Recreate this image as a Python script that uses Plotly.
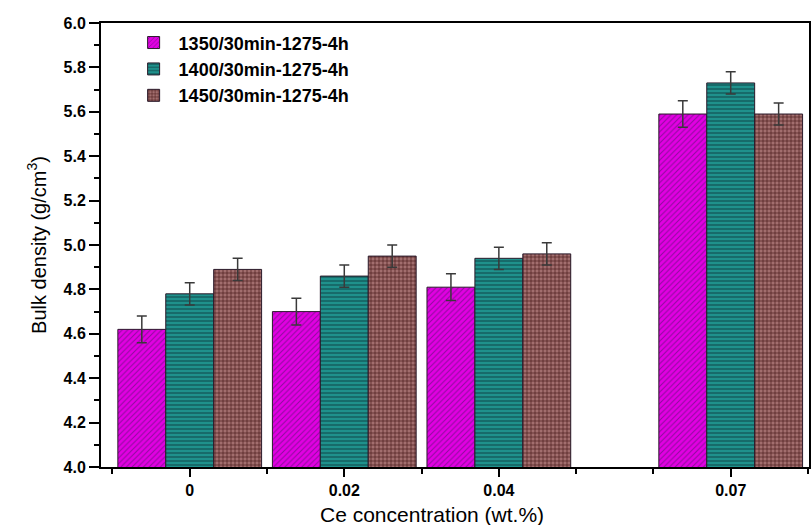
import plotly.graph_objects as go

concentrations = [0, 0.02, 0.04, 0.07]
tick_labels = ["0", "0.02", "0.04", "0.07"]
series_names = ["1350/30min-1275-4h", "1400/30min-1275-4h", "1450/30min-1275-4h"]
density_1350 = [4.62, 4.70, 4.81, 5.59]
density_1400 = [4.78, 4.86, 4.94, 5.73]
density_1450 = [4.89, 4.95, 4.96, 5.59]
err_1350 = [0.06, 0.06, 0.06, 0.06]
err_1400 = [0.05, 0.05, 0.05, 0.05]
err_1450 = [0.05, 0.05, 0.05, 0.05]
x_title = "Ce concentration (wt.%)"
y_title = "Bulk density (g/cm<sup>3</sup>)"

styles = [
    dict(bg="#E200E2", fg="#8C0C9C", shape="/", size=4, solidity=0.25),
    dict(bg="#1F918C", fg="#0C3A3C", shape="-", size=4, solidity=0.22),
    dict(bg="#A26E6E", fg="#451818", shape="+", size=4, solidity=0.3),
]

fig = go.Figure()
for name, vals, errs, st in zip(series_names,
                                [density_1350, density_1400, density_1450],
                                [err_1350, err_1400, err_1450], styles):
    fig.add_trace(go.Bar(
        x=concentrations, y=vals, name=name,
        marker=dict(color=st["bg"], line=dict(color="#2a1a2a", width=1),
                    pattern=dict(shape=st["shape"], bgcolor=st["bg"], fgcolor=st["fg"],
                                 size=st["size"], solidity=st["solidity"], fillmode="replace")),
        error_y=dict(type="data", array=errs, visible=True, color="#3a3a3a",
                     thickness=1.5, width=5),
    ))

font_family = "Liberation Sans, Arial, sans-serif"
fig.update_layout(
    width=811, height=525,
    margin=dict(l=101, r=0, t=23, b=58),
    paper_bgcolor="white", plot_bgcolor="white",
    barmode="group", bargap=0.07, bargroupgap=0,
    font=dict(family=font_family, color="black"),
    showlegend=True,
    legend=dict(x=0.039, y=0.997, xanchor="left", yanchor="top",
                bgcolor="rgba(0,0,0,0)", font=dict(size=18, family=font_family, weight="bold"),
                tracegroupgap=0, itemwidth=40),
    xaxis=dict(
        range=[-0.01148, 0.08013],
        tickmode="array", tickvals=concentrations, ticktext=tick_labels,
        ticks="outside", ticklen=8, tickwidth=2, tickcolor="black",
        tickfont=dict(size=16, family=font_family, weight="bold"),
        showline=True, linecolor="black", linewidth=2, mirror=True,
        showgrid=False, zeroline=False,
        minor=dict(tick0=0, dtick=0.01, ticks="outside", ticklen=5, tickwidth=1.5, tickcolor="black", showgrid=False),
    ),
    yaxis=dict(
        range=[4.0, 6.0], dtick=0.2, tick0=4.0, tickformat=".1f",
        ticks="outside", ticklen=10, tickwidth=2, tickcolor="black",
        tickfont=dict(size=16, family=font_family, weight="bold"),
        showline=True, linecolor="black", linewidth=2, mirror=True,
        showgrid=False, zeroline=False,
        minor=dict(dtick=0.1, ticks="outside", ticklen=5, tickwidth=1.5, tickcolor="black", showgrid=False),
        title=dict(text=y_title, font=dict(size=20, family=font_family), standoff=12),
    ),
    annotations=[dict(text=x_title, xref="paper", yref="paper", x=0.468, y=-0.108,
                      xanchor="center", yanchor="middle", showarrow=False,
                      font=dict(size=21, family=font_family, color="black"))],
)

fig.write_html("out.html")
